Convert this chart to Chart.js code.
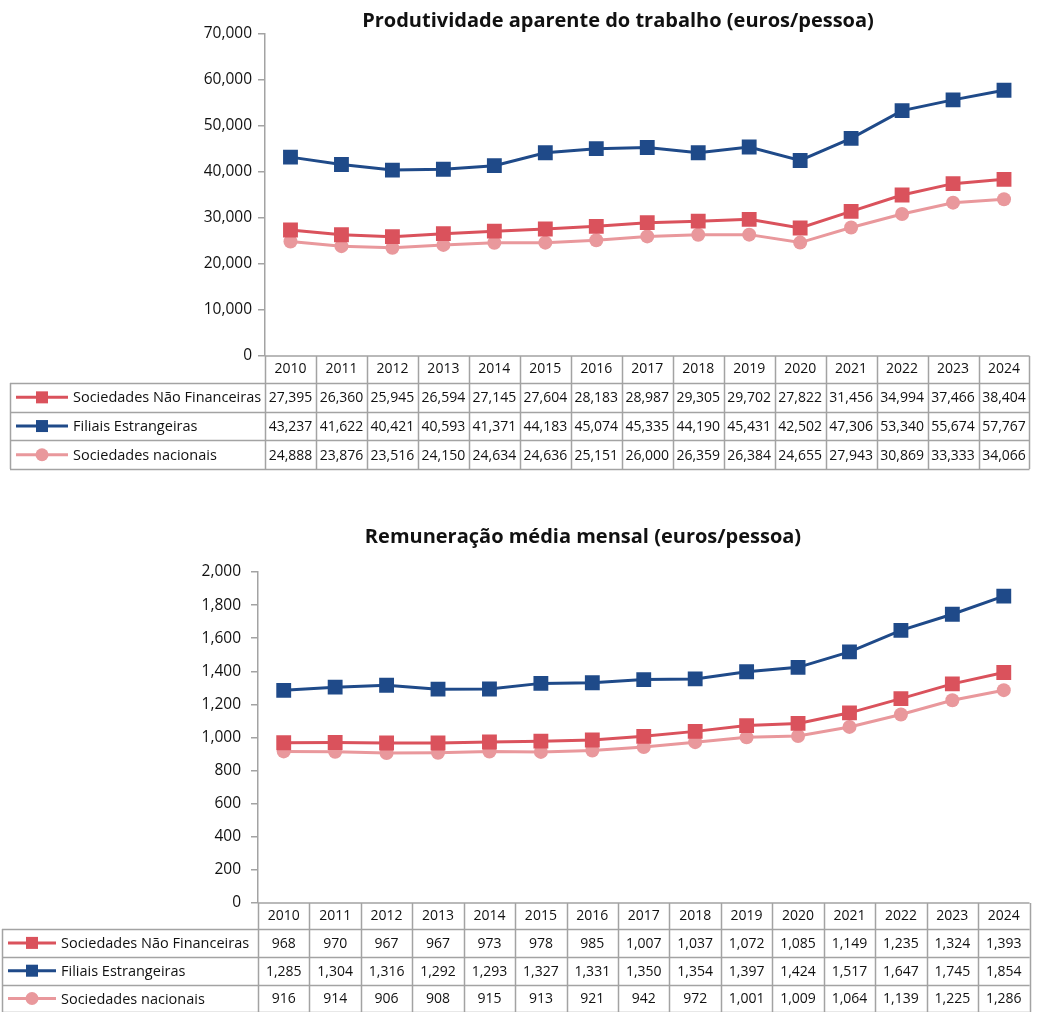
<!DOCTYPE html>
<html>
<head>
<meta charset="utf-8">
<script src="https://cdn.jsdelivr.net/npm/chart.js@4"></script>
<style>
  html, body { margin: 0; padding: 0; background: #ffffff; }
  .panel { position: absolute; left: 0; width: 1040px; }
  canvas { display: block; }
</style>
</head>
<body>
<div class="panel" style="top:0px;height:490px"><canvas id="prod" width="1040" height="490"></canvas></div>
<div class="panel" style="top:490px;height:522px"><canvas id="rem" width="1040" height="522"></canvas></div>
<script>
// Years shown on both charts and in the table header row
const years = ['2010','2011','2012','2013','2014','2015','2016','2017','2018','2019','2020','2021','2022','2023','2024'];

const seriesNames = ['Sociedades Não Financeiras', 'Filiais Estrangeiras', 'Sociedades nacionais'];

// Produtividade aparente do trabalho (euros/pessoa)
const prodSNF = [27395, 26360, 25945, 26594, 27145, 27604, 28183, 28987, 29305, 29702, 27822, 31456, 34994, 37466, 38404];
const prodFiliais = [43237, 41622, 40421, 40593, 41371, 44183, 45074, 45335, 44190, 45431, 42502, 47306, 53340, 55674, 57767];
const prodNacionais = [24888, 23876, 23516, 24150, 24634, 24636, 25151, 26000, 26359, 26384, 24655, 27943, 30869, 33333, 34066];

// Remuneração média mensal (euros/pessoa)
const remSNF = [968, 970, 967, 967, 973, 978, 985, 1007, 1037, 1072, 1085, 1149, 1235, 1324, 1393];
const remFiliais = [1285, 1304, 1316, 1292, 1293, 1327, 1331, 1350, 1354, 1397, 1424, 1517, 1647, 1745, 1854];
const remNacionais = [916, 914, 906, 908, 915, 913, 921, 942, 972, 1001, 1009, 1064, 1139, 1225, 1286];

const FONT = '"Open Sans", Lato, "DejaVu Sans", sans-serif';
const TEXT = '#111111';
const GRID = '#a3a3a3';
const RED = '#da525c';
const BLUE = '#1f4a89';
const PINK = '#e9989c';

const fmt = v => v.toLocaleString('en-US');

function makeDatasets(snf, fil, nac) {
  const base = { borderWidth: 3, tension: 0, pointBorderWidth: 0 };
  return [
    Object.assign({ label: seriesNames[0], data: snf, borderColor: RED, backgroundColor: RED,
      pointStyle: 'rect', pointRadius: 10.5, pointHoverRadius: 10.5 }, base),
    Object.assign({ label: seriesNames[1], data: fil, borderColor: BLUE, backgroundColor: BLUE,
      pointStyle: 'rect', pointRadius: 10.5, pointHoverRadius: 10.5 }, base),
    Object.assign({ label: seriesNames[2], data: nac, borderColor: PINK, backgroundColor: PINK,
      pointStyle: 'circle', pointRadius: 7, pointHoverRadius: 7 }, base)
  ];
}

// Draws the chart title and the data table (years header + one row per series) under the plot
const tablePlugin = {
  id: 'dataTable',
  afterDraw(chart, args, o) {
    const ctx = chart.ctx;
    const area = chart.chartArea;
    const xs = chart.scales.x;
    const step = xs.getPixelForValue(1) - xs.getPixelForValue(0);
    const right = area.left + step * years.length;
    const headTop = area.bottom;
    const headBot = headTop + o.headerH;
    const nRows = chart.data.datasets.length;
    const tableBot = headBot + o.rowH * nRows;

    ctx.save();
    // title
    ctx.fillStyle = TEXT;
    ctx.font = 'bold ' + o.titleSize + 'px ' + FONT;
    ctx.textAlign = 'center';
    ctx.textBaseline = 'middle';
    ctx.fillText(o.title, o.titleX, o.titleY);

    // grid
    ctx.strokeStyle = GRID;
    ctx.lineWidth = 1.5;
    ctx.beginPath();
    ctx.moveTo(area.left, headTop); ctx.lineTo(right, headTop);
    for (let i = 0; i <= years.length; i++) {
      const x = Math.round(area.left + step * i) + 0.5;
      ctx.moveTo(x, headTop); ctx.lineTo(x, tableBot);
    }
    for (let r = 0; r <= nRows; r++) {
      const y = Math.round(headBot + o.rowH * r) + 0.5;
      ctx.moveTo(o.tableLeft, y); ctx.lineTo(right, y);
    }
    ctx.moveTo(o.tableLeft + 0.5, headBot); ctx.lineTo(o.tableLeft + 0.5, tableBot);
    ctx.stroke();

    // header row
    ctx.fillStyle = TEXT;
    ctx.font = o.cellSize + 'px ' + FONT;
    ctx.textAlign = 'center';
    ctx.textBaseline = 'middle';
    years.forEach((yr, i) => {
      ctx.fillText(yr, xs.getPixelForValue(i), (headTop + headBot) / 2);
    });

    // series rows
    chart.data.datasets.forEach((ds, r) => {
      const cy = headBot + o.rowH * r + o.rowH / 2 + 1;
      ctx.font = o.cellSize + 'px ' + FONT;
      ds.data.forEach((v, i) => {
        ctx.textAlign = 'center';
        ctx.fillText(fmt(v), xs.getPixelForValue(i), cy);
      });
      // legend key
      const x1 = o.tableLeft + o.keyPad, x2 = x1 + o.keyLen, mx = (x1 + x2) / 2;
      ctx.strokeStyle = ds.borderColor;
      ctx.lineWidth = 3;
      ctx.beginPath(); ctx.moveTo(x1, cy - 1); ctx.lineTo(x2, cy - 1); ctx.stroke();
      ctx.fillStyle = ds.borderColor;
      if (ds.pointStyle === 'rect') {
        ctx.fillRect(mx - 6, cy - 7, 12, 12);
      } else {
        ctx.beginPath(); ctx.arc(mx, cy - 1, 6.5, 0, Math.PI * 2); ctx.fill();
      }
      ctx.fillStyle = TEXT;
      ctx.textAlign = 'left';
      ctx.font = o.legendSize + 'px ' + FONT;
      ctx.fillText(ds.label, x2 + 5, cy);
    });
    ctx.restore();
  }
};

function buildChart(id, datasets, yMax, yStep, layout, table) {
  return new Chart(document.getElementById(id), {
    type: 'line',
    data: { labels: years, datasets },
    plugins: [tablePlugin],
    options: {
      responsive: false,
      animation: false,
      layout: { padding: layout.padding },
      plugins: {
        legend: { display: false },
        title: { display: false },
        tooltip: { enabled: false },
        dataTable: table
      },
      scales: {
        x: {
          type: 'category',
          offset: true,
          display: false
        },
        y: {
          min: 0,
          max: yMax,
          ticks: {
            stepSize: yStep,
            color: TEXT,
            font: { family: FONT, size: 15.5 },
            padding: layout.tickPad,
            callback: v => fmt(v)
          },
          grid: { drawOnChartArea: false, drawTicks: true, tickLength: 7, color: GRID, lineWidth: 1.5 },
          border: { display: true, color: GRID, width: 1.5 },
          afterFit: s => { s.width = layout.axisWidth; }
        }
      }
    }
  });
}

buildChart('prod', makeDatasets(prodSNF, prodFiliais, prodNacionais), 70000, 10000,
  { padding: { top: 34, bottom: 490 - 356, left: 0, right: 3 }, axisWidth: 265, tickPad: 6 },
  { title: 'Produtividade aparente do trabalho (euros/pessoa)', titleX: 618, titleY: 21, titleSize: 20,
    headerH: 27, rowH: 28.7, tableLeft: 10, keyPad: 6, keyLen: 52, cellSize: 14, legendSize: 14.5 });

buildChart('rem', makeDatasets(remSNF, remFiliais, remNacionais), 2000, 200,
  { padding: { top: 82, bottom: 522 - 413, left: 0, right: 3 }, axisWidth: 258, tickPad: 10 },
  { title: 'Remuneração média mensal (euros/pessoa)', titleX: 583, titleY: 47, titleSize: 20,
    headerH: 26, rowH: 27.8, tableLeft: 2, keyPad: 6, keyLen: 48, cellSize: 14, legendSize: 14.5 });
</script>
</body>
</html>
